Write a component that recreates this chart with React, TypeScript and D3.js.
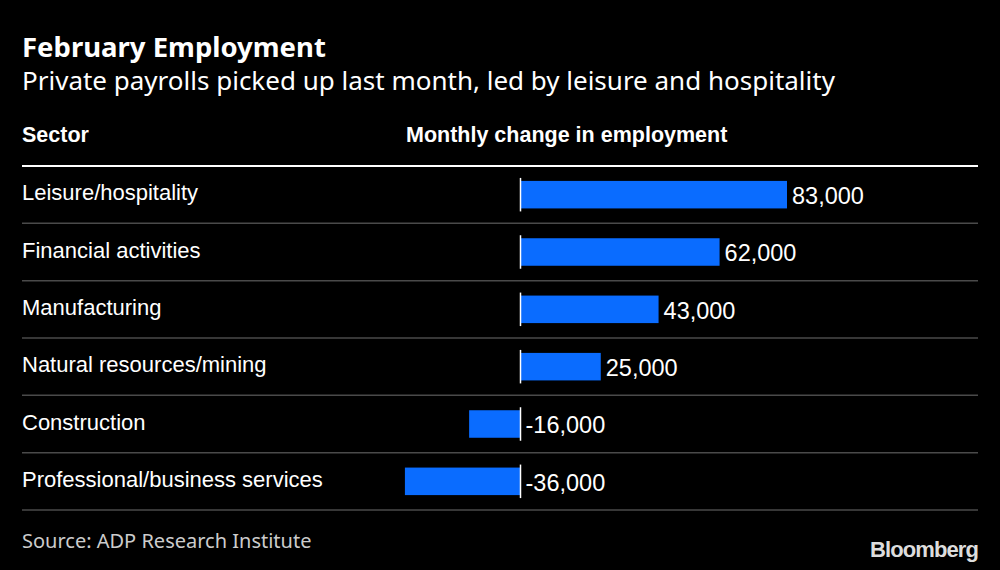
import { useEffect, useRef } from "react";
import * as d3 from "d3";

const sectors = [
  "Leisure/hospitality",
  "Financial activities",
  "Manufacturing",
  "Natural resources/mining",
  "Construction",
  "Professional/business services",
];
const changes = [83000, 62000, 43000, 25000, -16000, -36000];

const W = 1000;
const H = 570;

export default function App() {
  const svgRef = useRef<SVGSVGElement>(null);

  useEffect(() => {
    document.body.style.margin = "0";
    const svg = d3.select(svgRef.current);
    svg.selectAll("*").remove();

    svg.append("rect").attr("width", W).attr("height", H).attr("fill", "#000");

    // titles
    svg.append("text")
      .attr("x", 22).attr("y", 57)
      .attr("font-family", "'Noto Sans', sans-serif")
      .attr("font-weight", 700)
      .attr("font-size", 27.5)
      .attr("fill", "#fff")
      .text("February Employment");
    svg.append("text")
      .attr("x", 22).attr("y", 90)
      .attr("font-family", "'Noto Sans', sans-serif")
      .attr("font-size", 26)
      .attr("fill", "#fff")
      .text("Private payrolls picked up last month, led by leisure and hospitality");

    // headers
    svg.append("text")
      .attr("x", 22).attr("y", 142)
      .attr("font-family", "'Liberation Sans', Arial, sans-serif")
      .attr("font-weight", 700)
      .attr("font-size", 21.5)
      .attr("fill", "#fff")
      .text("Sector");
    svg.append("text")
      .attr("x", 406).attr("y", 142)
      .attr("font-family", "'Liberation Sans', Arial, sans-serif")
      .attr("font-weight", 700)
      .attr("font-size", 21.5)
      .attr("fill", "#fff")
      .text("Monthly change in employment");

    svg.append("line")
      .attr("x1", 22).attr("x2", 978)
      .attr("y1", 166).attr("y2", 166)
      .attr("stroke", "#fff").attr("stroke-width", 2);

    const y = d3.scaleBand<string>()
      .domain(sectors)
      .range([166, 510])
      .paddingInner(0.52)
      .paddingOuter(0.26);
    const x = d3.scaleLinear().domain([0, 83000]).range([520.5, 787]);

    const rowH = (510 - 166) / sectors.length;

    const g = svg.append("g");
    const rows = g.selectAll("g.row")
      .data(sectors.map((s, i) => ({ s, v: changes[i], i })))
      .join("g")
      .attr("class", "row");

    rows.append("line")
      .attr("x1", 22).attr("x2", 978)
      .attr("y1", (d) => 166 + rowH * (d.i + 1))
      .attr("y2", (d) => 166 + rowH * (d.i + 1))
      .attr("stroke", "#4a4a4a").attr("stroke-width", 1.5);

    rows.append("text")
      .attr("x", 22)
      .attr("y", (d) => y(d.s)! + y.bandwidth() / 2 - 2)
      .attr("dy", "0.35em")
      .attr("font-family", "'Liberation Sans', Arial, sans-serif")
      .attr("font-size", 22)
      .attr("fill", "#fff")
      .text((d) => d.s);

    rows.append("rect")
      .attr("x", (d) => Math.min(x(0), x(d.v)))
      .attr("y", (d) => y(d.s)!)
      .attr("width", (d) => Math.abs(x(d.v) - x(0)))
      .attr("height", y.bandwidth())
      .attr("fill", "#0a6cff");

    rows.append("line")
      .attr("x1", x(0)).attr("x2", x(0))
      .attr("y1", (d) => y(d.s)! - 3)
      .attr("y2", (d) => y(d.s)! + y.bandwidth() + 3)
      .attr("stroke", "#fff").attr("stroke-width", 1.5);

    const fmt = d3.format(",");
    rows.append("text")
      .attr("x", (d) => Math.max(x(0), x(d.v)) + 5)
      .attr("y", (d) => y(d.s)! + y.bandwidth() / 2 + 1)
      .attr("dy", "0.35em")
      .attr("font-family", "'Liberation Sans', Arial, sans-serif")
      .attr("font-size", 23.5)
      .attr("fill", "#fff")
      .text((d) => fmt(d.v).replace("\u2212", "-"));

    // footer
    svg.append("text")
      .attr("x", 22).attr("y", 548)
      .attr("font-family", "'Noto Sans', sans-serif")
      .attr("font-size", 20)
      .attr("fill", "#ccc")
      .text("Source: ADP Research Institute");
    svg.append("text")
      .attr("x", 978).attr("y", 557)
      .attr("text-anchor", "end")
      .attr("font-family", "'Liberation Sans', Arial, sans-serif")
      .attr("font-weight", 700)
      .attr("font-size", 22)
      .attr("letter-spacing", -0.9)
      .attr("fill", "#ddd")
      .text("Bloomberg");
  }, []);

  return <svg ref={svgRef} width={W} height={H} style={{ display: "block" }} />;
}
